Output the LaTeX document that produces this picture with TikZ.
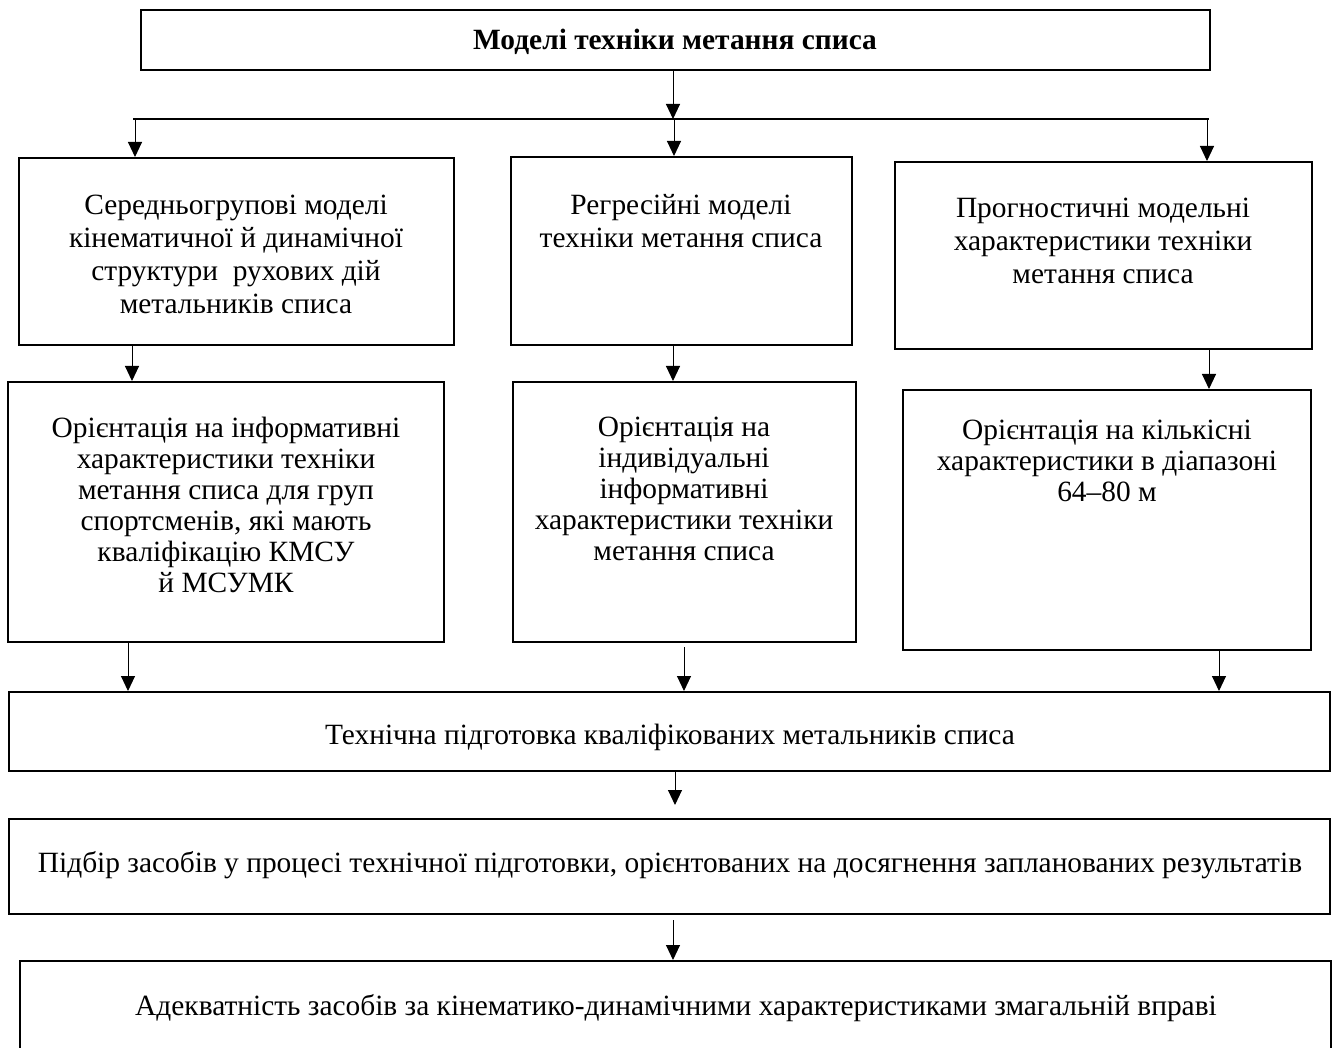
\documentclass[tikz,border=0pt]{standalone}
\usepackage{fontspec}
\setmainfont{Liberation Serif}
\usetikzlibrary{arrows.meta,fit}
\begin{document}
\begin{tikzpicture}[x=0.5pt,y=-0.5pt,
  box/.style={draw, line width=1pt, inner sep=0pt, rectangle},
  arr/.style={line width=0.5pt, -{Triangle[length=7.5pt,width=7pt]}},
  busline/.style={line width=1pt},
  txta/.style={align=center, inner sep=0pt, font=\fontsize{14.7}{16.5}\selectfont},
  txtb/.style={align=center, inner sep=0pt, font=\fontsize{14.7}{15.5}\selectfont},
  ttl/.style={align=center, inner sep=0pt, font=\bfseries\fontsize{14.7}{18}\selectfont}]
\clip (0,0) rectangle (1335,1048);
\fill[white] (0,0) rectangle (1335,1048);

% boxes
\node[box, fit={(141,10) (1210,70)}] (T) {};
\node[box, fit={(19,158) (454,345)}] (A1) {};
\node[box, fit={(511,157) (852,345)}] (B1) {};
\node[box, fit={(895,162) (1312,349)}] (C1) {};
\node[box, fit={(8,382) (444,642)}] (A2) {};
\node[box, fit={(513,382) (856,642)}] (B2) {};
\node[box, fit={(903,390) (1311,650)}] (C2) {};
\node[box, fit={(9,692) (1330,771)}] (D) {};
\node[box, fit={(9,819) (1330,914)}] (E) {};
\node[box, fit={(20,961) (1331,1080)}] (F) {};

% texts
\node[ttl] (tT) at (675,42) {Моделі техніки метання списа};
\node[txta] (tA1) at (236,254) {Середньогрупові моделі\\кінематичної й динамічної\\структури\ \ рухових дій\\метальників списа};
\node[txta] (tB1) at (681,221) {Регресійні моделі\\техніки метання списа};
\node[txta] (tC1) at (1103,241) {Прогностичні модельні\\характеристики техніки\\метання списа};
\node[txtb] (tA2) at (226,505) {Орієнтація на інформативні\\характеристики техніки\\метання списа для груп\\спортсменів, які мають\\кваліфікацію КМСУ\\й МСУМК};
\node[txtb] (tB2) at (684,489) {Орієнтація на\\індивідуальні\\інформативні\\характеристики техніки\\метання списа};
\node[txtb] (tC2) at (1107,461) {Орієнтація на кількісні\\характеристики в діапазоні\\64–80 м};
\node[txta] (tD) at (670,737) {Технічна підготовка кваліфікованих метальників списа};
\node[txta] (tE) at (670,865) {Підбір засобів у процесі технічної підготовки, орієнтованих на досягнення запланованих результатів};
\node[txta] (tF) at (676,1008) {Адекватність засобів за кінематико-динамічними характеристиками змагальній вправі};

% coordinates for connector x positions
\coordinate (busL) at (133,119);
\coordinate (busR) at (1209,119);
\coordinate (xTop) at (673,0);
\coordinate (xA0) at (135,0);
\coordinate (xB0) at (674,0);
\coordinate (xC0) at (1207,0);
\coordinate (xA1) at (132,0);
\coordinate (xB1) at (673,0);
\coordinate (xC1) at (1209,0);
\coordinate (xA2) at (128,0);
\coordinate (xB2) at (684,0);
\coordinate (xC2) at (1219,0);
\coordinate (xD) at (675,0);
\coordinate (xE) at (673,0);

% connectors
\draw[arr] (T.south -| xTop) -- (xTop |- busL);
\draw[busline] (busL) -- (busR);
\draw[arr] (xA0 |- busL) -- (A1.north -| xA0);
\draw[arr] (xB0 |- busL) -- (B1.north -| xB0);
\draw[arr] (xC0 |- busL) -- (C1.north -| xC0);
\draw[arr] (A1.south -| xA1) -- (A2.north -| xA1);
\draw[arr] (B1.south -| xB1) -- (B2.north -| xB1);
\draw[arr] (C1.south -| xC1) -- (C2.north -| xC1);
\draw[arr] (A2.south -| xA2) -- (D.north -| xA2);
\draw[arr, shorten <=2pt] (B2.south -| xB2) -- (D.north -| xB2);
\draw[arr] (C2.south -| xC2) -- (D.north -| xC2);
\draw[arr, shorten >=6.5pt] (D.south -| xD) -- (E.north -| xD);
\draw[arr, shorten <=2.5pt] (E.south -| xE) -- (F.north -| xE);
\end{tikzpicture}
\end{document}
